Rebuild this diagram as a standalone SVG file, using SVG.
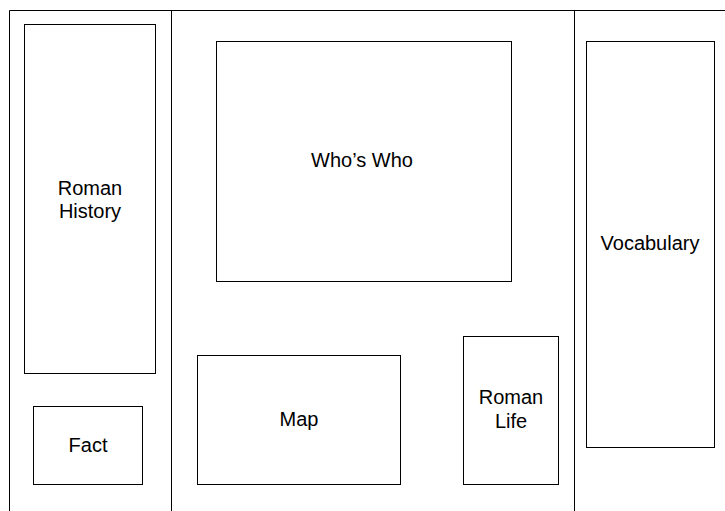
<svg xmlns="http://www.w3.org/2000/svg" width="725" height="511" viewBox="0 0 725 511">
<style>
.box{fill:#fff;stroke:#000;stroke-width:1}
.ln{fill:none;stroke:#000;stroke-width:1}
text{font-family:"Liberation Sans",Arial,sans-serif;font-size:20px;fill:#000;text-anchor:middle}
</style>
<rect x="0" y="0" width="725" height="511" fill="#fff"/>
<g id="frame">
<path class="ln" d="M9.5 511V10.5H725"/>
<path class="ln" d="M171.5 10.5V511"/>
<path class="ln" d="M574.5 10.5V511"/>
</g>
<g id="roman-history">
<rect class="box" x="24.5" y="24.5" width="131" height="349"/>
<text x="90" y="195">Roman</text>
<text x="90" y="218">History</text>
</g>
<g id="fact">
<rect class="box" x="33.5" y="406.5" width="109" height="78"/>
<text x="88" y="452">Fact</text>
</g>
<g id="whos-who">
<rect class="box" x="216.5" y="41.5" width="295" height="240"/>
<text x="362" y="167">Who’s Who</text>
</g>
<g id="map">
<rect class="box" x="197.5" y="355.5" width="203" height="129"/>
<text x="299" y="426">Map</text>
</g>
<g id="roman-life">
<rect class="box" x="463.5" y="336.5" width="95" height="148"/>
<text x="511" y="404">Roman</text>
<text x="511" y="428">Life</text>
</g>
<g id="vocabulary">
<rect class="box" x="586.5" y="41.5" width="128" height="406"/>
<text x="650" y="250">Vocabulary</text>
</g>
<g id="connectors"/>
</svg>
